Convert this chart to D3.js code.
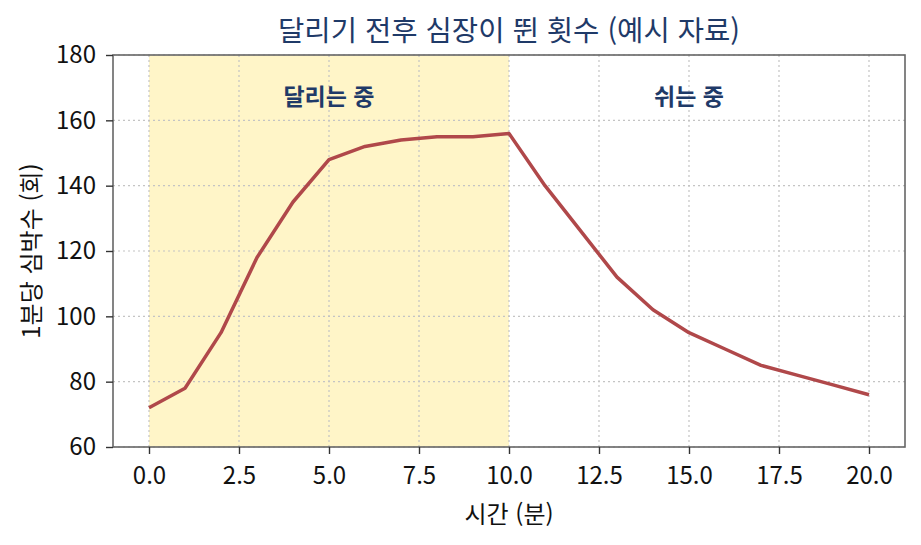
<!DOCTYPE html>
<html lang="ko">
	<head>
		<meta charset="utf-8">
		<title>달리기 전후 심장이 뛴 횟수</title>
		<script src="https://d3js.org/d3.v7.min.js"></script>
		<style>
			body { margin: 0; background: #fff; }
			text { font-family: "Noto Sans CJK KR", "Noto Sans", sans-serif; }
		</style>
	</head>
	<body>
		<script type="text/javascript">
			// window size setup
			var w = 921
			var h = 545
			var margin = { top: 55, right: 16, bottom: 98, left: 113 }

			// data
			var minutes = [0, 1, 2, 3, 4, 5, 6, 7, 8, 9, 10, 11, 12, 13, 14, 15, 16, 17, 18, 19, 20]
			var heartRate = [72, 78, 95, 118, 135, 148, 152, 154, 155, 155, 156, 140, 126, 112, 102, 95, 90, 85, 82, 79, 76]
			var xTicks = [0, 2.5, 5, 7.5, 10, 12.5, 15, 17.5, 20]
			var yTicks = [60, 80, 100, 120, 140, 160, 180]
			var phaseNames = ["달리는 중", "쉬는 중"]
			var phaseStart = [0, 10]
			var phaseEnd = [10, 20]

			var dataSet = minutes.map(function(m, i){ return { x: m, y: heartRate[i] } })

			// scales
			var xScale = d3.scaleLinear()
							.domain([-1, 21])
							.range([margin.left, w - margin.right])
			var yScale = d3.scaleLinear()
							.domain([60, 180])
							.range([h - margin.bottom, margin.top])

			var svg = d3.select("body")
						.append("svg")
						.attr("width", w)
						.attr("height", h)

			// running span shading
			svg.append("rect")
				.attr("x", xScale(phaseStart[0]))
				.attr("y", margin.top)
				.attr("width", xScale(phaseEnd[0]) - xScale(phaseStart[0]))
				.attr("height", yScale(60) - yScale(180))
				.attr("fill", "#fff5c8")

			// grid
			svg.append("g")
				.selectAll("line")
				.data(xTicks)
				.enter()
				.append("line")
				.attr("x1", function(d){ return xScale(d) })
				.attr("x2", function(d){ return xScale(d) })
				.attr("y1", margin.top)
				.attr("y2", h - margin.bottom)
				.attr("stroke", "#c4c4c4")
				.attr("stroke-width", 1.2)
				.attr("stroke-dasharray", "2,3")

			svg.append("g")
				.selectAll("line")
				.data(yTicks)
				.enter()
				.append("line")
				.attr("x1", margin.left)
				.attr("x2", w - margin.right)
				.attr("y1", function(d){ return yScale(d) })
				.attr("y2", function(d){ return yScale(d) })
				.attr("stroke", "#c4c4c4")
				.attr("stroke-width", 1.2)
				.attr("stroke-dasharray", "2,3")

			// the line
			var line = d3.line()
						.x(function(d){ return xScale(d.x) })
						.y(function(d){ return yScale(d.y) })

			svg.append("path")
				.datum(dataSet)
				.attr("d", line)
				.attr("fill", "none")
				.attr("stroke", "#b0484a")
				.attr("stroke-width", 3.5)
				.attr("stroke-linejoin", "round")

			// phase labels
			svg.selectAll(".phase")
				.data(phaseNames)
				.enter()
				.append("text")
				.attr("class", "phase")
				.text(function(d){ return d })
				.attr("x", function(d, i){ return xScale((phaseStart[i] + phaseEnd[i]) / 2) })
				.attr("y", 105)
				.attr("text-anchor", "middle")
				.attr("font-size", "23px")
				.attr("font-weight", "bold")
				.attr("fill", "#1f3a68")

			// frame
			svg.append("rect")
				.attr("x", margin.left)
				.attr("y", margin.top)
				.attr("width", w - margin.left - margin.right)
				.attr("height", h - margin.top - margin.bottom)
				.attr("fill", "none")
				.attr("stroke", "#666")
				.attr("stroke-width", 1.6)

			// axes
			var xAxis = d3.axisBottom(xScale)
							.tickValues(xTicks)
							.tickFormat(d3.format(".1f"))
							.tickSize(7)
							.tickPadding(13)
			var yAxis = d3.axisLeft(yScale)
							.tickValues(yTicks)
							.tickSize(7)
							.tickPadding(10)

			var gx = svg.append("g")
						.attr("transform", "translate(0," + (h - margin.bottom) + ")")
						.call(xAxis)
			var gy = svg.append("g")
						.attr("transform", "translate(" + margin.left + ",0)")
						.call(yAxis)

			;[gx, gy].forEach(function(g){
				g.select(".domain").remove()
				g.selectAll(".tick line").attr("stroke", "#333").attr("stroke-width", 1.4)
				g.selectAll(".tick text")
					.attr("fill", "#111")
					.attr("font-size", "24px")
					.attr("font-family", "'Noto Sans CJK KR', sans-serif")
			})

			// titles
			svg.append("text")
				.text("달리기 전후 심장이 뛴 횟수 (예시 자료)")
				.attr("x", (margin.left + w - margin.right) / 2)
				.attr("y", 41)
				.attr("text-anchor", "middle")
				.attr("font-size", "28.6px")
				.attr("fill", "#1f3a68")

			svg.append("text")
				.text("시간 (분)")
				.attr("x", (margin.left + w - margin.right) / 2)
				.attr("y", 523)
				.attr("text-anchor", "middle")
				.attr("font-size", "24px")
				.attr("fill", "#111")

			svg.append("text")
				.text("1분당 심박수 (회)")
				.attr("transform", "translate(40," + (margin.top + (h - margin.bottom - margin.top) / 2) + ") rotate(-90)")
				.attr("text-anchor", "middle")
				.attr("font-size", "24px")
				.attr("fill", "#111")
		</script>
	</body>
</html>
